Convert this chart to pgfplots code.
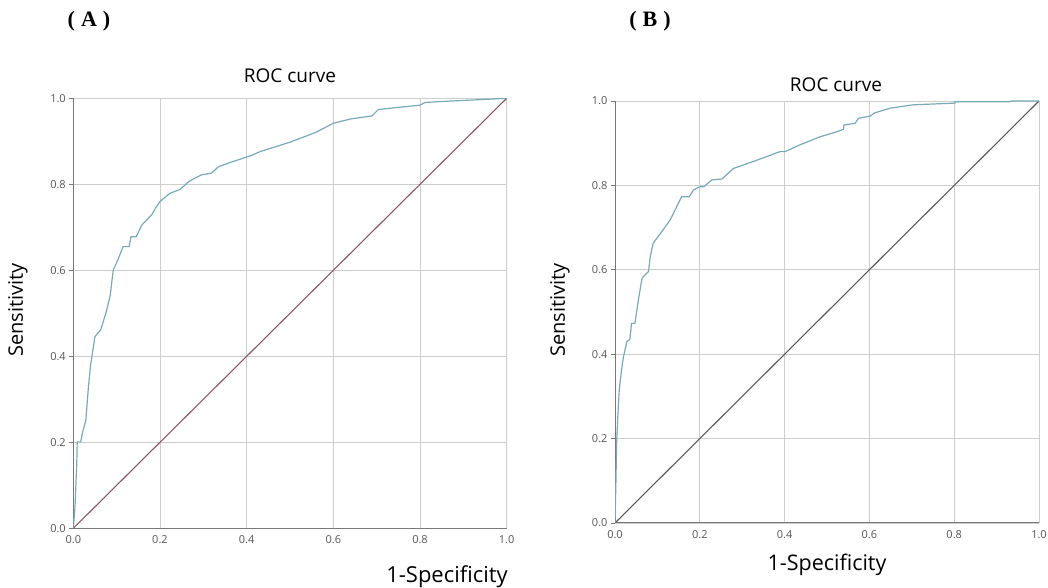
\documentclass[border=0pt]{standalone}
\usepackage{pgfplots}
\pgfplotsset{compat=1.18}
\usepackage{fontspec}
\setmainfont{Open Sans}
\newfontfamily\tnr{Liberation Serif}
\definecolor{roc}{RGB}{118,170,182}
\definecolor{diagA}{RGB}{138,88,98}
\definecolor{diagB}{RGB}{90,90,90}
\definecolor{gridc}{RGB}{205,205,205}
\definecolor{axc}{RGB}{120,120,120}
\definecolor{tickc}{RGB}{85,85,85}

\pgfplotstableread{
x y
0 0
0.004 0.05
0.008 0.15
0.009 0.201
0.017 0.201
0.022 0.225
0.029 0.252
0.035 0.33
0.040 0.38
0.050 0.446
0.063 0.461
0.075 0.50
0.085 0.54
0.092 0.600
0.103 0.625
0.115 0.655
0.129 0.655
0.133 0.678
0.145 0.678
0.158 0.705
0.170 0.718
0.181 0.729
0.190 0.745
0.200 0.760
0.212 0.770
0.223 0.779
0.246 0.788
0.269 0.808
0.282 0.815
0.296 0.822
0.319 0.826
0.335 0.841
0.360 0.850
0.408 0.866
0.431 0.876
0.50 0.898
0.55 0.917
0.562 0.922
0.600 0.942
0.640 0.952
0.689 0.959
0.704 0.974
0.760 0.980
0.80 0.984
0.811 0.990
0.838 0.992
0.90 0.995
0.961 0.998
1 1
}\rocA

\pgfplotstableread{
x y
0 0
0.002 0.09
0.004 0.197
0.007 0.26
0.010 0.315
0.015 0.36
0.020 0.394
0.028 0.430
0.035 0.435
0.039 0.473
0.047 0.473
0.055 0.528
0.063 0.576
0.065 0.582
0.079 0.596
0.083 0.63
0.090 0.663
0.110 0.69
0.130 0.718
0.157 0.773
0.175 0.773
0.185 0.789
0.200 0.797
0.210 0.797
0.228 0.813
0.252 0.815
0.279 0.840
0.33 0.858
0.389 0.880
0.401 0.880
0.436 0.896
0.483 0.915
0.523 0.927
0.539 0.933
0.540 0.943
0.566 0.947
0.574 0.959
0.601 0.964
0.613 0.972
0.649 0.983
0.704 0.991
0.802 0.995
0.802 0.998
0.93 0.998
0.935 1
1 1
}\rocB

\pgfplotsset{
  rocaxis/.style={
    anchor=south west, scale only axis,
    xmin=0, xmax=1, ymin=0, ymax=1,
    axis lines=left, axis line style={-, axc, line width=1pt},
    xtick={0,0.2,0.4,0.6,0.8,1}, ytick={0,0.2,0.4,0.6,0.8,1},
    grid=major, grid style={gridc, line width=0.8pt},
    tick align=outside, major tick length=4pt,
    xtick style={draw=none}, ytick style={axc, line width=0.8pt},
    tick label style={font=\fontsize{11}{11}\selectfont, text=tickc},
    /pgf/number format/.cd, fixed, fixed zerofill, precision=1, assume math mode=true,
  },
}

\begin{document}
\begin{tikzpicture}[x=1pt,y=1pt]
\useasboundingbox (0,0) rectangle (1048,588);
\node at (89,567) {\fontsize{22}{22}\selectfont\tnr\bfseries (\hspace{6pt}A\hspace{6pt})};
\node at (650,567) {\fontsize{22}{22}\selectfont\tnr\bfseries (\hspace{6pt}B\hspace{6pt})};

\begin{axis}[rocaxis, at={(73.3pt,59.7pt)}, width=433.4pt, height=430pt]
\addplot[diagA, line width=1.1pt] coordinates {(0,0) (1,1)};
\addplot[roc, line width=1.2pt] table[x=x,y=y] {\rocA};
\end{axis}

\begin{axis}[rocaxis, at={(615pt,65pt)}, width=424pt, height=422pt]
\addplot[diagB, line width=1.1pt] coordinates {(0,0) (1,1)};
\addplot[roc, line width=1.2pt] table[x=x,y=y] {\rocB};
\end{axis}

\node at (290,512) {\fontsize{19}{19}\selectfont ROC curve};
\node at (836,503) {\fontsize{19}{19}\selectfont ROC curve};
\node at (447,11) {\fontsize{22}{22}\selectfont 1-Specificity};
\node at (827,23) {\fontsize{21.5}{21.5}\selectfont 1-Specificity};
\node[rotate=90] at (18,278) {\fontsize{20}{20}\selectfont Sensitivity};
\node[rotate=90] at (560,278) {\fontsize{20}{20}\selectfont Sensitivity};
\end{tikzpicture}
\end{document}
